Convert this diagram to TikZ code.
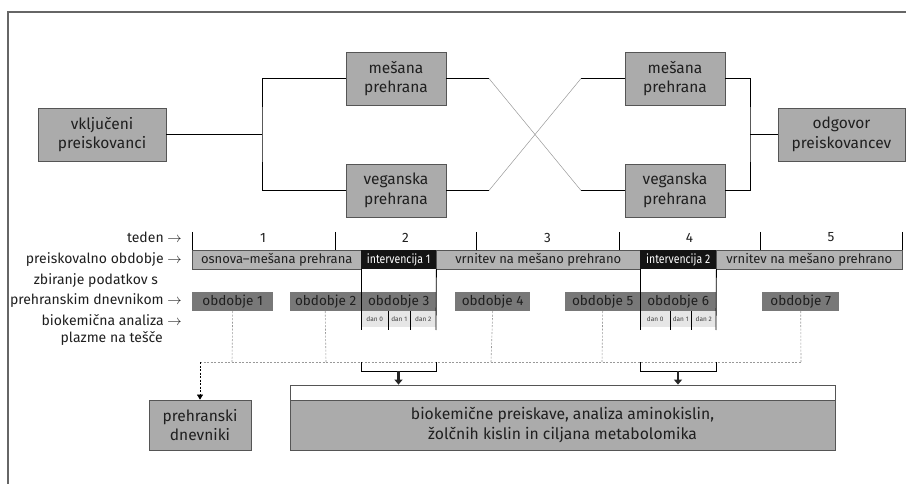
\documentclass[tikz,border=0pt]{standalone}
\usepackage{fontspec}
\usepackage{graphicx}
\setmainfont{Fira Sans}
\usetikzlibrary{arrows.meta}
\definecolor{boxgray}{HTML}{ABABAB}
\definecolor{edgegray}{HTML}{555555}
\definecolor{bargray}{HTML}{B3B3B3}
\definecolor{pergray}{HTML}{787878}
\definecolor{dangray}{HTML}{E6E6E6}
\definecolor{dashgray}{HTML}{999999}
\definecolor{framegray}{HTML}{666666}
\newcommand{\condtxt}[1]{\scalebox{0.84}[1]{#1}}
\begin{document}
\begin{tikzpicture}[x=1pt,y=-1pt,
  box/.style={draw=edgegray, line width=0.8pt, fill=boxgray, align=center, inner sep=0pt,
    font=\fontsize{15.5}{19.5}\selectfont, text=black!88},
  conn/.style={line width=0.8pt, black},
  cross/.style={line width=0.5pt, dashgray},
  seg/.style={fill=bargray, draw=edgegray, line width=0.5pt, minimum height=19pt, inner sep=0pt,
    anchor=west, font=\fontsize{13}{15}\selectfont, text=black!88},
  interv/.style={fill=black!92, minimum height=19pt, inner sep=0pt, anchor=west,
    font=\fontsize{12.5}{14}\selectfont, text=white},
  per/.style={fill=pergray, minimum height=19pt, inner sep=0pt, anchor=west,
    font=\fontsize{13.5}{15}\selectfont, text=black!88},
  dan/.style={fill=dangray, minimum height=16pt, inner sep=0pt, anchor=west,
    font=\fontsize{6.5}{7}\selectfont, text=black!75},
  lbl/.style={anchor=east, align=center, inner sep=0pt, font=\fontsize{14}{20}\selectfont, text=black!88},
  num/.style={inner sep=0pt, font=\fontsize{13.5}{15}\selectfont, text=black!88},
  tick/.style={line width=0.8pt, black},
  vline/.style={line width=0.8pt, black},
  dashline/.style={line width=0.6pt, dashgray, dash pattern=on 2pt off 1.5pt},
  bracket/.style={line width=0.9pt, black},
  fatarrow/.style={line width=2.8pt, -{Triangle[length=5pt,width=8pt]}, black!85},
  smallarrow/.style={-{Triangle[length=5pt,width=6pt]}, black}
]
\useasboundingbox (0,0) rectangle (906,484);
% frame
\draw[framegray, line width=1.2pt] (8,484) -- (8,12) -- (906,12);

% top boxes
\node[box, minimum width=128pt, minimum height=53pt] (vkl) at (102,134.5) {vključeni\\preiskovanci};
\node[box, minimum width=100pt, minimum height=53pt] (mesL) at (396,78.5) {mešana\\prehrana};
\node[box, minimum width=100pt, minimum height=53pt] (vegL) at (396,190.5) {veganska\\prehrana};
\node[box, minimum width=100pt, minimum height=53pt] (mesR) at (675,78.5) {mešana\\prehrana};
\node[box, minimum width=100pt, minimum height=53pt] (vegR) at (675,190.5) {veganska\\prehrana};
\node[box, minimum width=127pt, minimum height=53pt] (odg) at (841.5,134.5) {odgovor\\preiskovancev};

\coordinate (j1) at (262,134.5);
\coordinate (j2) at (750,134.5);
\coordinate (c1) at (489,78.5);
\coordinate (c2) at (581,78.5);
\coordinate (c3) at (489,190.5);
\coordinate (c4) at (581,190.5);

\draw[conn] (vkl.east) -- (j1);
\draw[conn] (mesL.west) -| (j1) |- (vegL.west);
\draw[conn] (mesL.east) -- (c1);
\draw[conn] (vegL.east) -- (c3);
\draw[conn] (c2) -- (mesR.west);
\draw[conn] (c4) -- (vegR.west);
\draw[cross] (c1) -- (c4);
\draw[cross] (c3) -- (c2);
\draw[conn] (mesR.east) -| (j2) |- (vegR.east);
\draw[conn] (j2) -- (odg.west);

% timeline ticks
\foreach \x [count=\i] in {192,335,476,619,760,902} {
  \coordinate (t\i) at (\x,232);
  \coordinate (b\i) at (\x,250);
  \draw[tick] (t\i) -- (b\i);
}
\node[num] (w1) at (263,237.5) {1};
\node[num] (w2) at (405.5,237.5) {2};
\node[num] (w3) at (547.5,237.5) {3};
\node[num] (w4) at (689.5,237.5) {4};
\node[num] (w5) at (831,237.5) {5};

% period bar
\node[seg, minimum width=169pt] (s1) at (192,259.5) {osnova–mešana prehrana};
\node[interv, minimum width=75pt] (i1) at (361,259.5) {\condtxt{intervencija 1}};
\node[seg, minimum width=204pt] (s2) at (436,259.5) {vrnitev na mešano prehrano};
\node[interv, minimum width=76pt] (i2) at (640,259.5) {\condtxt{intervencija 2}};
\node[seg, minimum width=186pt] (s3) at (716,259.5) {vrnitev na mešano prehrano};

% obdobja
\node[per, minimum width=81pt] (p1) at (192,301.5) {obdobje 1};
\node[per, minimum width=71pt] (p2) at (290,301.5) {obdobje 2};
\node[per, minimum width=75pt] (p3) at (361,301.5) {obdobje 3};
\node[per, minimum width=75pt] (p4) at (455,301.5) {obdobje 4};
\node[per, minimum width=75pt] (p5) at (565,301.5) {obdobje 5};
\node[per, minimum width=76pt] (p6) at (640,301.5) {obdobje 6};
\node[per, minimum width=77pt] (p7) at (762,301.5) {obdobje 7};

% dan boxes
\node[dan, minimum width=27pt] (d10) at (361,319) {dan 0};
\node[dan, minimum width=22pt] (d11) at (388,319) {dan 1};
\node[dan, minimum width=26pt] (d12) at (410,319) {dan 2};
\node[dan, minimum width=30pt] (d20) at (640,319) {dan 0};
\node[dan, minimum width=21pt] (d21) at (670,319) {dan 1};
\node[dan, minimum width=25pt] (d22) at (691,319) {dan 2};

% intervention verticals
\coordinate (v1e) at (361,330);
\coordinate (v2e) at (436,330);
\coordinate (v3e) at (640,330);
\coordinate (v4e) at (716,330);
\draw[vline] (i1.south west) -- (v1e);
\draw[vline] (i1.south east) -- (v2e);
\draw[vline] (i2.south west) -- (v3e);
\draw[vline] (i2.south east) -- (v4e);
\coordinate (e1) at (388,330);
\coordinate (e2) at (410,330);
\coordinate (e3) at (670,330);
\coordinate (e4) at (691,330);
\draw[vline] (d11.north west) -- (e1);
\draw[vline] (d12.north west) -- (e2);
\draw[vline] (d21.north west) -- (e3);
\draw[vline] (d22.north west) -- (e4);

% left labels
\node[lbl] (l1) at (182,237.5) {teden $\rightarrow$};
\node[lbl] (l2) at (182,259.5) {preiskovalno obdobje $\rightarrow$};
\node[lbl] (l3) at (182,290.5) {zbiranje podatkov s\\prehranskim dnevnikom $\rightarrow$};
\node[lbl, font=\fontsize{14}{17}\selectfont] (l4) at (182,329.5) {biokemična analiza $\rightarrow$\\plazme na tešče};

% bottom boxes
\node[box, minimum width=102pt, minimum height=50pt] (preh) at (200,425) {prehranski\\dnevniki};
\node[draw=edgegray, line width=0.8pt, fill=white, minimum width=545pt, minimum height=15pt, inner sep=0pt] (strip) at (562.5,392.5) {};
\node[box, minimum width=545pt, minimum height=50pt, font=\fontsize{15.7}{19.5}\selectfont] (bio) at (562.5,425) {biokemične preiskave, analiza aminokislin,\\žolčnih kislin in ciljana metabolomika};

% dashed collectors
\coordinate (h0) at (200,362);
\coordinate (h1) at (232,362);
\coordinate (h2) at (326,362);
\coordinate (h4) at (491,362);
\coordinate (h5) at (602,362);
\coordinate (h7) at (801,362);
\draw[dashline] (p1.south) -- (h1);
\draw[dashline] (p2.south) ++(-0.5,0) -- (h2);
\draw[dashline] (p4.south) -- (h4);
\draw[dashline] (p5.south) -- (h5);
\draw[dashline] (p7.south) -- (h7);
\draw[dashline] (h0) -- (h7);
\draw[dashline, smallarrow] (h0) -- (preh.north);

% brackets and thick arrows
\coordinate (k1a) at (361,362);
\coordinate (k1b) at (436,362);
\coordinate (k2a) at (640,362);
\coordinate (k2b) at (716,362);
\draw[bracket] (k1a) -- (361,371) -- (436,371) -- (k1b);
\draw[bracket] (k2a) -- (640,371) -- (716,371) -- (k2b);
\coordinate (a1) at (398.5,371);
\coordinate (a2) at (678,371);
\draw[fatarrow] (a1) -- (a1 |- strip.north);
\draw[fatarrow] (a2) -- (a2 |- strip.north);
\end{tikzpicture}
\end{document}
